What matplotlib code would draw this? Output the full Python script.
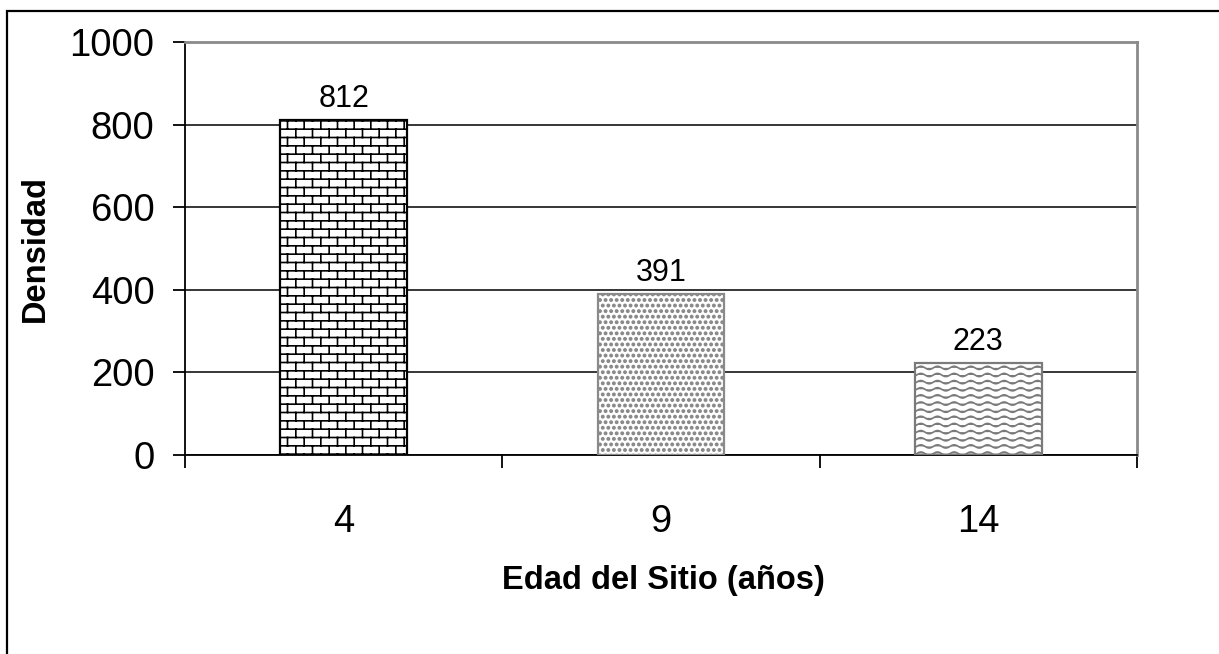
import warnings
warnings.filterwarnings("ignore")
import numpy as np
import matplotlib
matplotlib.use("Agg")
import matplotlib.pyplot as plt
from matplotlib import hatch as mhatch
from matplotlib.path import Path
from matplotlib.patches import Rectangle

categories = ["4", "9", "14"]
values = [812, 391, 223]
y_ticks = [0, 200, 400, 600, 800, 1000]
x_label = "Edad del Sitio (años)"
y_label = "Densidad"


class BrickHatch(mhatch.HatchPatternBase):
    rows = 12
    cols = 6

    def __init__(self, hatch, density):
        self.v = []
        if 'b' in hatch:
            R, C = self.rows, self.cols
            for r in range(R):
                y = (r + 0.5) / R
                self.v += [(0, y), (1, y)]
            for r in range(R):
                y0 = (r + 0.5) / R
                y1 = (r + 1.5) / R
                shift = 0.5 if r % 2 else 0.0
                for c in range(C):
                    x = (c + shift + 0.25) / C
                    if y1 <= 1.0:
                        self.v += [(x, y0), (x, y1)]
                    else:
                        self.v += [(x, y0), (x, 1.0), (x, 0.0), (x, y1 - 1.0)]
        self.num_vertices = len(self.v)

    def set_vertices_and_codes(self, vertices, codes):
        vertices[:] = np.array(self.v)
        codes[0::2] = Path.MOVETO
        codes[1::2] = Path.LINETO


class WaveHatch(mhatch.HatchPatternBase):
    def __init__(self, hatch, density):
        self.segs = []
        if 'w' in hatch:
            rows, periods = 14, 6
            xs = np.linspace(0, 1, periods * 12 + 1)
            for r in range(rows):
                y0 = (r + 0.5) / rows
                ys = y0 + 0.016 * np.sin(2 * np.pi * periods * xs)
                self.segs.append(np.column_stack([xs, ys]))
        self.num_vertices = sum(len(s) for s in self.segs)

    def set_vertices_and_codes(self, vertices, codes):
        i = 0
        for s in self.segs:
            n = len(s)
            vertices[i:i + n] = s
            codes[i] = Path.MOVETO
            codes[i + 1:i + n] = Path.LINETO
            i += n


class DotHatch(mhatch.Circles):
    size = 0.2
    filled = True

    def __init__(self, hatch, density):
        self.num_rows = hatch.count('d') * density
        super().__init__(hatch, density)


mhatch._hatch_types.extend([BrickHatch, WaveHatch, DotHatch])

plt.rcParams['font.family'] = ['Liberation Sans', 'DejaVu Sans']
plt.rcParams['hatch.linewidth'] = 1.2

W, H = 1219, 654
fig = plt.figure(figsize=(W / 100, H / 100), dpi=100)
L, R, T, B = 185, 1137, 42, 455
ax = fig.add_axes([L / W, 1 - B / H, (R - L) / W, (B - T) / H])

x = np.arange(len(categories))
hatches = ['b', 'ddd', 'w']
edges = ['#000000', '#8a8a8a', '#7a7a7a']
bars = ax.bar(x, values, width=0.4, color='white', edgecolor=edges,
              linewidth=1.6, zorder=3)
for b, h in zip(bars, hatches):
    b.set_hatch(h)

for xi, v in zip(x, values):
    ax.annotate(str(v), (xi, v), xytext=(0, 4), textcoords='offset points',
                ha='center', va='bottom', fontsize=22, zorder=4)

ax.set_xlim(-0.5, len(categories) - 0.5)
ax.set_ylim(0, 1000)
ax.set_yticks(y_ticks)
ax.set_yticklabels([str(t) for t in y_ticks], fontsize=27.5)
ax.yaxis.grid(True, color='black', linewidth=1.1, zorder=1)
ax.set_axisbelow(True)

ax.set_xticks(np.arange(len(categories) + 1) - 0.5)
ax.set_xticklabels([])
ax.set_xticks(x, minor=True)
ax.set_xticklabels(categories, minor=True, fontsize=27.5)
ax.tick_params(axis='x', which='major', direction='out', length=9, width=1.3)
ax.tick_params(axis='x', which='minor', length=0, pad=35)
ax.tick_params(axis='y', direction='out', length=9, width=1.3, pad=13)

for s in ['left', 'bottom']:
    ax.spines[s].set_color('black')
    ax.spines[s].set_linewidth(1.3)
for s in ['top', 'right']:
    ax.spines[s].set_color('#8a8a8a')
    ax.spines[s].set_linewidth(2)

ax.set_xlabel(x_label, fontsize=23.5, fontweight='bold')
ax.xaxis.set_label_coords((663 - L) / (R - L), (B - 581) / (B - T))
ax.xaxis.label.set_va('center')
ax.set_ylabel(y_label, fontsize=23.5, fontweight='bold')
ax.yaxis.set_label_coords((35 - L) / (R - L), 0.5)
ax.yaxis.label.set_va('center')

fig.add_artist(Rectangle((7 / W, -0.1), 1.2, (1 - 11 / H) + 0.1,
                         transform=fig.transFigure, fill=False,
                         edgecolor='black', linewidth=1.6))

fig.savefig('out.png', dpi=100, facecolor='white')
